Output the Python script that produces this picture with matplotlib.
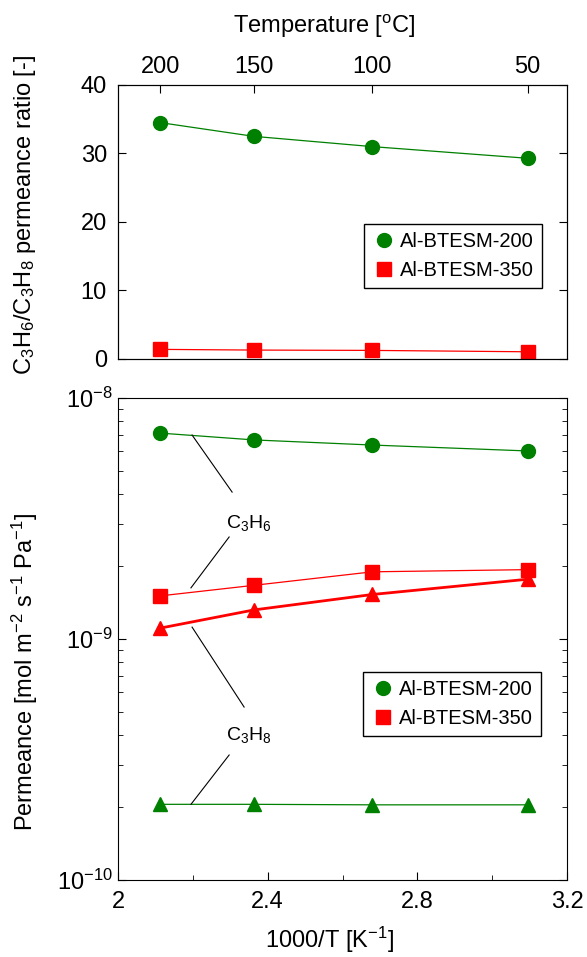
import numpy as np
import matplotlib
matplotlib.use('Agg')
import matplotlib.pyplot as plt
from matplotlib.ticker import LogLocator, MultipleLocator, NullFormatter

plt.rcParams['font.family'] = ['Liberation Sans', 'DejaVu Sans']
plt.rcParams['mathtext.fontset'] = 'custom'
plt.rcParams['mathtext.rm'] = 'Liberation Sans'
plt.rcParams['mathtext.it'] = 'Liberation Sans:italic'
plt.rcParams['mathtext.default'] = 'regular'
plt.rcParams['font.size'] = 17

# 温度及对应的 1000/T
temps_c = [200, 150, 100, 50]
inv_t = [1000.0 / (t + 273.15) for t in temps_c]

# 渗透率比值 C3H6/C3H8
ratio_200 = [34.5, 32.5, 31.0, 29.3]
ratio_350 = [1.4, 1.3, 1.25, 1.05]

# 渗透率 [mol m-2 s-1 Pa-1]
c3h6_200 = [7.15e-9, 6.7e-9, 6.38e-9, 6.03e-9]
c3h8_200 = [2.06e-10, 2.06e-10, 2.05e-10, 2.05e-10]
c3h6_350 = [1.51e-9, 1.67e-9, 1.90e-9, 1.94e-9]
c3h8_350 = [1.11e-9, 1.32e-9, 1.53e-9, 1.77e-9]

green = '#008000'
red = '#ff0000'

fig = plt.figure(figsize=(5.87, 9.57), dpi=100)
ax1 = fig.add_axes([0.201, 0.6249, 0.765, 0.2863])
ax2 = fig.add_axes([0.201, 0.0805, 0.765, 0.5036])

# ---- 上图：比值 ----
ax1.plot(inv_t, ratio_200, '-', color=green, lw=0.9)
ax1.plot(inv_t, ratio_350, '-', color=red, lw=0.9)
ax1.plot(inv_t, ratio_200, 'o', color=green, ms=10, label='Al-BTESM-200', ls='none')
ax1.plot(inv_t, ratio_350, 's', color=red, ms=10, label='Al-BTESM-350', ls='none')
ax1.set_xlim(2, 3.2)
ax1.set_ylim(0, 40)
ax1.yaxis.set_major_locator(MultipleLocator(10))
ax1.tick_params(axis='y', direction='in', length=6, right=True, left=True, pad=8)
ax1.tick_params(axis='x', bottom=False, labelbottom=False)
ax1.set_xticks([])
leg1 = ax1.legend(loc='upper right', bbox_to_anchor=(0.944, 0.493), fancybox=False,
                  edgecolor='black', framealpha=1, handletextpad=0.2, borderpad=0.4,
                  handlelength=1.2, labelspacing=0.5, borderaxespad=0, fontsize=14.5)
leg1.get_frame().set_linewidth(1.0)

# 顶部温度轴
ax_top = ax1.twiny()
ax_top.set_xlim(2, 3.2)
ax_top.set_xticks(inv_t)
ax_top.set_xticklabels([str(t) for t in temps_c])
ax_top.tick_params(axis='x', direction='in', length=6, pad=5)

# ---- 下图：渗透率 ----
ax2.plot(inv_t, c3h6_200, '-', color=green, lw=0.9)
ax2.plot(inv_t, c3h8_200, '-', color=green, lw=0.9)
ax2.plot(inv_t, c3h6_350, '-', color=red, lw=0.9)
ax2.plot(inv_t, c3h8_350, '-', color=red, lw=2.0)
ax2.plot(inv_t, c3h6_200, 'o', color=green, ms=10, ls='none', label='Al-BTESM-200')
ax2.plot(inv_t, c3h6_350, 's', color=red, ms=10, ls='none', label='Al-BTESM-350')
ax2.plot(inv_t, c3h8_200, '^', color=green, ms=10, ls='none')
ax2.plot(inv_t, c3h8_350, '^', color=red, ms=10, ls='none')
ax2.set_yscale('log')
ax2.set_xlim(2, 3.2)
ax2.set_ylim(1e-10, 1e-8)
ax2.set_xticks([2, 2.4, 2.8, 3.2])
ax2.set_xticklabels(['2', '2.4', '2.8', '3.2'])
ax2.xaxis.set_minor_locator(MultipleLocator(0.2))
ax2.yaxis.set_major_locator(LogLocator(base=10))
ax2.yaxis.set_minor_locator(LogLocator(base=10, subs=np.arange(2, 10)))
ax2.yaxis.set_minor_formatter(NullFormatter())
ax2.tick_params(axis='both', which='major', direction='in', length=6, right=True)
ax2.tick_params(axis='both', which='minor', direction='in', length=3.5, right=True)
ax2.tick_params(axis='x', pad=8)
ax2.tick_params(axis='y', pad=4)
leg2 = ax2.legend(loc='upper right', bbox_to_anchor=(0.942, 0.4315), fancybox=False,
                  edgecolor='black', framealpha=1, handletextpad=0.2, borderpad=0.4,
                  handlelength=1.2, labelspacing=0.5, borderaxespad=0, fontsize=14.5)
leg2.get_frame().set_linewidth(1.0)

# 气体标注
ax2.plot([2.198, 2.305], [7.02e-9, 4.07e-9], color='black', lw=0.8)
ax2.plot([2.297, 2.195], [2.65e-9, 1.63e-9], color='black', lw=0.8)
ax2.text(2.35, 3.02e-9, r'C$_3$H$_6$', ha='center', va='center', fontsize=14)
ax2.plot([2.198, 2.337], [1.12e-9, 5.22e-10], color='black', lw=0.8)
ax2.plot([2.297, 2.195], [3.30e-10, 2.06e-10], color='black', lw=0.8)
ax2.text(2.35, 4.0e-10, r'C$_3$H$_8$', ha='center', va='center', fontsize=14)

# 轴标签
fig.text(0.552, 0.972, r'Temperature [$^{\mathrm{o}}$C]', ha='center', va='center')
fig.text(0.562, 0.018, r'1000/T [K$^{\mathrm{-1}}$]', ha='center', va='center')
fig.text(0.043, 0.775, r'C$_3$H$_6$/C$_3$H$_8$ permeance ratio [-]', ha='center', va='center',
         rotation=90)
fig.text(0.043, 0.298, r'Permeance [mol m$^{\mathrm{-2}}$ s$^{\mathrm{-1}}$ Pa$^{\mathrm{-1}}$]',
         ha='center', va='center', rotation=90)

plt.savefig('out.png', dpi=100)
